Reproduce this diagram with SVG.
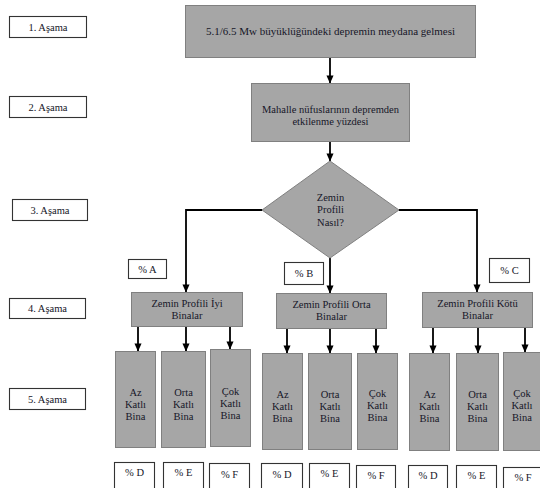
<svg xmlns="http://www.w3.org/2000/svg" width="540" height="488" viewBox="0 0 540 488">
<defs>
<style>
.bg{fill:#ffffff}
.g{fill:#a6a6a6;stroke:#808080;stroke-width:1}
.w{fill:#ffffff;stroke:#333333;stroke-width:1.1}
.t{font-family:"Liberation Serif","Times New Roman",serif;font-size:10.5px;fill:#161628;text-anchor:middle}
.big{font-size:11px}
.c{stroke:#000000;stroke-width:1.8;fill:none}
</style>
<marker id="ad" markerUnits="userSpaceOnUse" markerWidth="8" markerHeight="9" refX="8.5" refY="4" orient="auto" viewBox="0 0 9 8">
<path d="M0,0 L9,4 L0,8 Z" fill="#000000"/>
</marker>
</defs>
<rect class="bg" x="0" y="0" width="540" height="488"/>

<g id="stage1"><rect class="w" x="9.5" y="16.5" width="77" height="21"/><text class="t" x="48" y="30.5">1. Aşama</text></g>
<g id="stage2"><rect class="w" x="9.5" y="96.5" width="77" height="21"/><text class="t" x="48" y="110.5">2. Aşama</text></g>
<g id="stage3"><rect class="w" x="12.5" y="199.5" width="75" height="21"/><text class="t" x="50" y="213.5">3. Aşama</text></g>
<g id="stage4"><rect class="w" x="9.5" y="298.5" width="76" height="20"/><text class="t" x="47.5" y="312">4. Aşama</text></g>
<g id="stage5"><rect class="w" x="9.5" y="388.5" width="76" height="21"/><text class="t" x="47.5" y="402.5">5. Aşama</text></g>

<g id="connectors">
<line class="c" x1="330" y1="57" x2="330" y2="83" marker-end="url(#ad)"/>
<line class="c" x1="330" y1="141" x2="330" y2="161" marker-end="url(#ad)"/>
<polyline class="c" points="262,210 186,210 186,292" marker-end="url(#ad)"/>
<line class="c" x1="330" y1="258" x2="330" y2="293" marker-end="url(#ad)"/>
<polyline class="c" points="399,210 477,210 477,292" marker-end="url(#ad)"/>
<line class="c" x1="138" y1="326" x2="138" y2="351" marker-end="url(#ad)"/>
<line class="c" x1="186" y1="326" x2="186" y2="351" marker-end="url(#ad)"/>
<line class="c" x1="230" y1="326" x2="230" y2="349" marker-end="url(#ad)"/>
<line class="c" x1="287" y1="328" x2="287" y2="353" marker-end="url(#ad)"/>
<line class="c" x1="330" y1="328" x2="330" y2="353" marker-end="url(#ad)"/>
<line class="c" x1="376" y1="328" x2="376" y2="353" marker-end="url(#ad)"/>
<line class="c" x1="433" y1="327" x2="433" y2="353" marker-end="url(#ad)"/>
<line class="c" x1="478" y1="327" x2="478" y2="353" marker-end="url(#ad)"/>
<line class="c" x1="525" y1="327" x2="525" y2="352" marker-end="url(#ad)"/>
</g>

<g id="event"><rect class="g" x="185.5" y="5.5" width="290" height="52"/><text class="t big" x="330.5" y="35">5.1/6.5 Mw büyüklüğündeki depremin meydana gelmesi</text></g>
<g id="impact"><rect class="g" x="251.5" y="83.5" width="158" height="58"/><text class="t" x="330.5" y="112.5">Mahalle nüfuslarının depremden</text><text class="t" x="330.5" y="124.5">etkilenme yüzdesi</text></g>
<g id="decision"><polygon class="g" points="262,210 330,161 399,210 330,258"/><text class="t" x="330.5" y="200.5">Zemin</text><text class="t" x="330.5" y="213">Profili</text><text class="t" x="330.5" y="225.5">Nasıl?</text></g>

<g id="pA"><rect class="w" x="128.5" y="259.5" width="38" height="19"/><text class="t" x="147.5" y="272.5">% A</text></g>
<g id="pB"><rect class="w" x="284.5" y="262.5" width="39" height="22"/><text class="t" x="304" y="277">% B</text></g>
<g id="pC"><rect class="w" x="489.5" y="258.5" width="40" height="24"/><text class="t" x="509.5" y="273.5">% C</text></g>

<g id="good"><rect class="g" x="131.5" y="292.5" width="111" height="34"/><text class="t" x="187" y="306.5">Zemin Profili İyi</text><text class="t" x="187" y="318.5">Binalar</text></g>
<g id="medium"><rect class="g" x="276.5" y="293.5" width="110" height="35"/><text class="t" x="331.5" y="307.5">Zemin Profili Orta</text><text class="t" x="331.5" y="319.5">Binalar</text></g>
<g id="bad"><rect class="g" x="422.5" y="292.5" width="110" height="35"/><text class="t" x="477.5" y="306.5">Zemin Profili Kötü</text><text class="t" x="477.5" y="318.5">Binalar</text></g>

<g id="g1low"><rect class="g" x="115.5" y="351.5" width="40" height="96"/><text class="t" x="135.5" y="395.5">Az</text><text class="t" x="135.5" y="407.5">Katlı</text><text class="t" x="135.5" y="419.5">Bina</text></g>
<g id="g1mid"><rect class="g" x="161.5" y="351.5" width="44" height="96"/><text class="t" x="183.5" y="395.5">Orta</text><text class="t" x="183.5" y="407.5">Katlı</text><text class="t" x="183.5" y="419.5">Bina</text></g>
<g id="g1high"><rect class="g" x="210.5" y="349.5" width="40" height="97"/><text class="t" x="230.5" y="394.5">Çok</text><text class="t" x="230.5" y="406.5">Katlı</text><text class="t" x="230.5" y="418.5">Bina</text></g>

<g id="g2low"><rect class="g" x="262.5" y="353.5" width="40" height="96"/><text class="t" x="282.5" y="397.5">Az</text><text class="t" x="282.5" y="409.5">Katlı</text><text class="t" x="282.5" y="421.5">Bina</text></g>
<g id="g2mid"><rect class="g" x="308.5" y="353.5" width="43" height="96"/><text class="t" x="330" y="397.5">Orta</text><text class="t" x="330" y="409.5">Katlı</text><text class="t" x="330" y="421.5">Bina</text></g>
<g id="g2high"><rect class="g" x="357.5" y="353.5" width="40" height="96"/><text class="t" x="377.5" y="396.5">Çok</text><text class="t" x="377.5" y="408.5">Katlı</text><text class="t" x="377.5" y="420.5">Bina</text></g>

<g id="g3low"><rect class="g" x="409.5" y="353.5" width="40" height="97"/><text class="t" x="429.5" y="397.5">Az</text><text class="t" x="429.5" y="409.5">Katlı</text><text class="t" x="429.5" y="421.5">Bina</text></g>
<g id="g3mid"><rect class="g" x="456.5" y="353.5" width="42" height="97"/><text class="t" x="477.5" y="397.5">Orta</text><text class="t" x="477.5" y="409.5">Katlı</text><text class="t" x="477.5" y="421.5">Bina</text></g>
<g id="g3high"><rect class="g" x="503.5" y="352.5" width="42" height="98"/><text class="t" x="522" y="396.5">Çok</text><text class="t" x="522" y="408.5">Katlı</text><text class="t" x="522" y="420.5">Bina</text></g>

<g id="d1"><rect class="w" x="114.5" y="462.5" width="40" height="30"/><text class="t" x="134.5" y="476">% D</text></g>
<g id="e1"><rect class="w" x="163.5" y="462.5" width="40" height="30"/><text class="t" x="183.5" y="476">% E</text></g>
<g id="f1"><rect class="w" x="209.5" y="463.5" width="40" height="30"/><text class="t" x="229.5" y="477.5">% F</text></g>
<g id="d2"><rect class="w" x="261.5" y="463.5" width="41" height="30"/><text class="t" x="282" y="477.5">% D</text></g>
<g id="e2"><rect class="w" x="309.5" y="463.5" width="40" height="30"/><text class="t" x="329.5" y="477">% E</text></g>
<g id="f2"><rect class="w" x="356.5" y="465.5" width="39" height="30"/><text class="t" x="376" y="479">% F</text></g>
<g id="d3"><rect class="w" x="408.5" y="465.5" width="39" height="30"/><text class="t" x="428" y="479">% D</text></g>
<g id="e3"><rect class="w" x="456.5" y="465.5" width="40" height="30"/><text class="t" x="476.5" y="479">% E</text></g>
<g id="f3"><rect class="w" x="503.5" y="467.5" width="40" height="30"/><text class="t" x="523" y="481">% F</text></g>
</svg>
